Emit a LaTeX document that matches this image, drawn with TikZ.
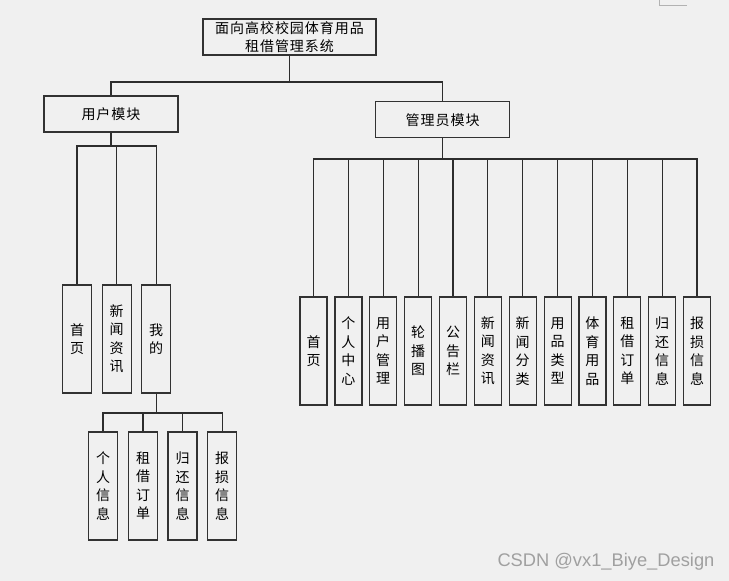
\documentclass[tikz,border=0pt]{standalone}
\usepackage{fontspec}
\setmainfont[LetterSpace=7]{Noto Sans CJK SC}
\newfontfamily\markfont{Liberation Sans}
\usepackage{xcolor}
\usepackage{tikz}
\usetikzlibrary{positioning}

\definecolor{pagebg}{RGB}{240,240,240}
\definecolor{boxline}{RGB}{50,50,50}
\definecolor{linkline}{RGB}{45,45,45}
\definecolor{marktext}{RGB}{160,160,160}

\begin{document}
\begin{tikzpicture}[
    x=1pt,
    y=-1pt,
    modbox/.style={draw=boxline,line width=1.2pt,fill=pagebg,inner sep=0pt,
        align=center,font=\fontsize{14}{18.5}\selectfont},
    topbox/.style={modbox,minimum width=173,minimum height=36},
    groupbox/.style={modbox,minimum width=134,minimum height=36},
    leafbox/.style={modbox,minimum width=29,minimum height=108},
    narrowbox/.style={modbox,minimum width=27,minimum height=108},
    link/.style={draw=linkline,line width=1.1pt}
]

% ---------------------------------------------------------
% Page
% ---------------------------------------------------------

\fill[pagebg] (0,0) rectangle (729,581);
\useasboundingbox (0,0) rectangle (729,581);

\draw[black!30,line width=0.8pt]
    (659,0) -- (659,5) -- (687,5);

% ---------------------------------------------------------
% System and modules
% ---------------------------------------------------------

\node[topbox] (sys) at (289.5,37)
    {面向高校校园体育用品\\租借管理系统};

\node[groupbox] (user) at (111,114) {用户模块};

\node[groupbox] (admin) at (442.7,119.7) {管理员模块};

\coordinate (topbus) at (289.5,82);

\draw[link] (sys.south) -- (topbus);
\draw[link] (topbus) -| (user.north);
\draw[link] (topbus) -| (admin.north);

% ---------------------------------------------------------
% User module
% ---------------------------------------------------------

\node[leafbox] (uhome) at (77,339) {首\\页};
\node[leafbox] (unews) at (116.6,339) {新\\闻\\资\\讯};
\node[leafbox] (umine) at (156.2,339) {我\\的};

\coordinate (ubus) at (111,146);

\draw[link] (user.south) -- (ubus);
\draw[link] (ubus) -| (uhome.north);
\draw[link] (ubus) -| (unews.north);
\draw[link] (ubus) -| (umine.north);

% My page
\node[leafbox] (minfo) at (103,486) {个\\人\\信\\息};
\node[leafbox] (morder) at (143,486) {租\\借\\订\\单};
\node[leafbox] (mreturn) at (182.5,486) {归\\还\\信\\息};
\node[leafbox] (mdamage) at (222.2,486) {报\\损\\信\\息};

\coordinate (mbus) at (156.2,413);

\draw[link] (umine.south) -- (mbus);
\draw[link] (mbus) -| (minfo.north);
\draw[link] (mbus) -| (morder.north);
\draw[link] (mbus) -| (mreturn.north);
\draw[link] (mbus) -| (mdamage.north);

% ---------------------------------------------------------
% Admin module
% ---------------------------------------------------------

\node[narrowbox] (ahome) at (313.5,351) {首\\页};
\node[narrowbox] (acenter) at (348.4,351) {个\\人\\中\\心};
\node[narrowbox] (auser) at (383.2,351) {用\\户\\管\\理};
\node[narrowbox] (aslide) at (418.1,351) {轮\\播\\图};
\node[narrowbox] (anotice) at (453,351) {公\\告\\栏};
\node[narrowbox] (anews) at (487.8,351) {新\\闻\\资\\讯};
\node[narrowbox] (anewstype) at (522.7,351) {新\\闻\\分\\类};
\node[narrowbox] (agoodstype) at (557.6,351) {用\\品\\类\\型};
\node[narrowbox] (agoods) at (592.4,351) {体\\育\\用\\品};
\node[narrowbox] (aorder) at (627.3,351) {租\\借\\订\\单};
\node[narrowbox] (areturn) at (662.2,351) {归\\还\\信\\息};
\node[narrowbox] (adamage) at (697,351) {报\\损\\信\\息};

\coordinate (abus) at (442.7,159);

\draw[link] (admin.south) -- (abus);
\draw[link] (abus) -| (ahome.north);
\draw[link] (abus) -| (acenter.north);
\draw[link] (abus) -| (auser.north);
\draw[link] (abus) -| (aslide.north);
\draw[link] (abus) -| (anotice.north);
\draw[link] (abus) -| (anews.north);
\draw[link] (abus) -| (anewstype.north);
\draw[link] (abus) -| (agoodstype.north);
\draw[link] (abus) -| (agoods.north);
\draw[link] (abus) -| (aorder.north);
\draw[link] (abus) -| (areturn.north);
\draw[link] (abus) -| (adamage.north);

% Watermark
\node[anchor=base west,inner sep=0pt,text=marktext,
    font=\markfont\fontsize{18.3}{21}\selectfont]
    (mark) at (497.3,566.7) {CSDN @vx1\_Biye\_Design};

\end{tikzpicture}
\end{document}
